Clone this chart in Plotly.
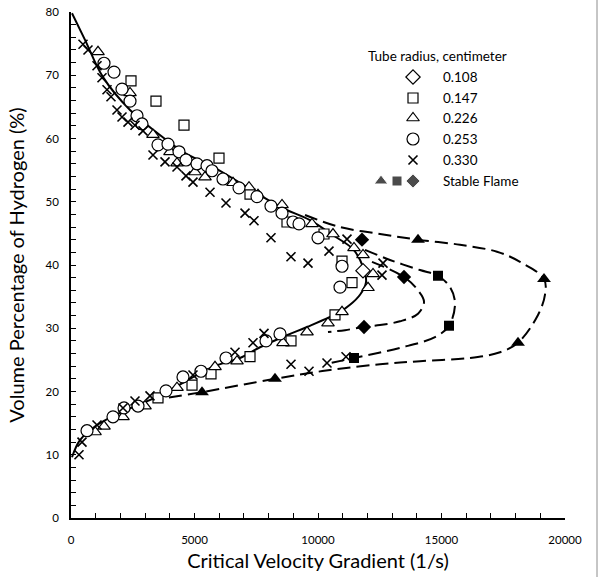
import plotly.graph_objects as go

# ---- measured points: critical velocity gradient (1/s) vs H2 volume (%) ----
r108_x = [11822]
r108_y = [39.1]

r147_x = [2429, 3441, 4575, 5992, 7247, 8745, 10243, 10972, 11377,
          3522, 4899, 5668, 7247, 8907, 10688]
r147_y = [69.1, 65.9, 62.1, 56.9, 51.2, 46.8, 44.9, 40.6, 37.2,
          19.0, 21.0, 22.8, 25.5, 28.0, 32.1]

r226_x = [1093, 2389, 3320, 4008, 4292, 5020, 5425, 6559, 7207, 7571, 8543,
          9757, 10607, 11457, 11822, 12227, 12025,
          972, 1336, 2105, 2996, 4292, 5830, 6721, 8583, 9555, 10405, 10972]
r226_y = [73.7, 67.2, 60.6, 57.9, 56.1, 54.7, 53.9, 53.0, 52.3, 51.1, 49.5,
          46.5, 44.9, 42.7, 41.6, 38.6, 36.4,
          13.6, 14.5, 16.0, 17.7, 20.6, 23.9, 24.8, 27.7, 29.4, 30.8, 32.6]

r253_x = [1336, 1741, 2065, 2389, 2672, 2875, 3522, 3927, 4372, 4656, 5101,
          5506, 5709, 6154, 6802, 7530, 8097, 8543, 8988, 9231, 10000,
          10972, 10891,
          648, 1700, 2146, 2713, 3846, 4534, 5263, 6275, 7895, 8462]
r253_y = [71.9, 70.5, 67.8, 65.9, 63.6, 62.3, 59.0, 59.1, 57.9, 56.6, 56.0,
          55.7, 54.9, 53.6, 52.2, 50.8, 49.3, 48.2, 46.8, 46.5, 44.3,
          39.8, 36.5,
          13.8, 16.0, 17.4, 17.7, 20.1, 22.3, 23.2, 25.3, 28.0, 29.1]

r330_x = [486, 688, 1053, 1255, 1458, 1619, 1862, 2065, 2308, 2591, 2915,
          3320, 3806, 4292, 4656, 4939, 5628, 6275, 7045, 7409, 8097, 8907,
          9595, 10445, 11174, 12632, 12591,
          324, 445, 1053, 2105, 2591, 3198, 4939, 6640, 7369, 7814,
          8907, 9636, 10364, 11134]
r330_y = [74.9, 74.0, 71.5, 69.6, 67.7, 66.6, 64.5, 63.4, 62.6, 62.1, 61.2,
          57.4, 56.3, 55.5, 54.1, 53.1, 51.5, 49.8, 48.2, 47.0, 44.3, 41.3,
          40.3, 42.2, 44.1, 40.3, 38.4,
          10.0, 12.0, 14.7, 17.4, 18.5, 19.3, 22.6, 26.2, 27.7, 29.2,
          24.3, 23.2, 24.5, 25.5]

# stable-flame points
sf_tri_x = [5304, 8259, 14049, 19150, 18097]
sf_tri_y = [19.9, 22.0, 44.0, 37.8, 27.7]
sf_sq_x = [11458, 14858, 15304]
sf_sq_y = [25.3, 38.3, 30.4]
sf_dia_x = [11782, 13482, 11863]
sf_dia_y = [44.0, 38.1, 30.2]

# blow-off boundary (solid) and stable-flame boundaries (dashed)
blowoff_x = [40, 567, 1296, 2389, 3482, 4535, 5750, 7126, 8462, 9676, 10607,
             11417, 11822, 11944, 11701, 11296, 10891, 9555, 8745, 7652,
             6842, 5749, 3603, 2267, 1053, 364, 40]
blowoff_y = [79.8, 75.6, 69.7, 64.5, 60.9, 57.9, 55.5, 52.3, 49.2, 47.1, 44.7,
             42.5, 39.7, 37.3, 35.3, 33.7, 32.6, 30.2, 28.9, 27.0,
             25.3, 23.9, 19.4, 17.1, 14.7, 12.3, 9.6]

outer_x = [9474, 10891, 12510, 14049, 15749, 17247, 18178, 19150, 19190,
           18907, 18097, 17369, 16154, 14130, 12510, 10486, 8259, 5304, 3401]
outer_y = [47.9, 46.0, 44.9, 44.0, 43.2, 42.1, 40.5, 37.8, 35.3,
           32.1, 27.7, 26.2, 25.3, 24.8, 24.3, 23.4, 22.0, 19.9, 18.7]

middle_x = [11903, 12915, 14130, 14858, 15344, 15547, 15304, 14737, 13320,
            11458, 10283]
middle_y = [42.4, 40.8, 39.2, 38.3, 36.5, 34.0, 30.4, 28.6, 26.9,
            25.3, 24.3]

inner_x = [12186, 13482, 14049, 14292, 14049, 13320, 12510, 11863, 11094,
           10405]
inner_y = [40.5, 38.1, 36.0, 34.2, 32.3, 31.1, 30.5, 30.2, 29.7, 29.4]

legend_title = "Tube radius, centimeter"
legend_labels = ["0.108", "0.147", "0.226", "0.253", "0.330", "Stable Flame"]

FONT = "Lato"
BLACK = "#000000"

fig = go.Figure()

# boundary curves
fig.add_trace(go.Scatter(x=blowoff_x, y=blowoff_y, mode="lines",
                         line=dict(color=BLACK, width=2, shape="spline", smoothing=1.0),
                         hoverinfo="skip"))
for cx, cy in [(outer_x, outer_y), (middle_x, middle_y), (inner_x, inner_y)]:
    fig.add_trace(go.Scatter(x=cx, y=cy, mode="lines",
                             line=dict(color=BLACK, width=2, dash="13px,6px",
                                       shape="spline", smoothing=1.0),
                             hoverinfo="skip"))

open_style = dict(color="white", line=dict(color=BLACK, width=1.2))
cross_style = dict(color=BLACK, line=dict(color=BLACK, width=1.6))
series = [
    (r108_x, r108_y, "diamond", 11),
    (r147_x, r147_y, "square", 10),
    (r226_x, r226_y, "triangle-up", 11),
    (r253_x, r253_y, "circle", 12),
]
for sx, sy, sym, size in series:
    fig.add_trace(go.Scatter(x=sx, y=sy, mode="markers",
                             marker=dict(symbol=sym, size=size, **open_style)))
fig.add_trace(go.Scatter(x=r330_x, y=r330_y, mode="markers",
                         marker=dict(symbol="x-thin-open", size=9, **cross_style)))

for sx, sy, sym, size in [(sf_tri_x, sf_tri_y, "triangle-up", 12),
                          (sf_sq_x, sf_sq_y, "square", 10),
                          (sf_dia_x, sf_dia_y, "diamond", 11)]:
    fig.add_trace(go.Scatter(x=sx, y=sy, mode="markers",
                             marker=dict(symbol=sym, size=size, color=BLACK,
                                         line=dict(width=0))))

# legend drawn on an overlay axis measured in pixels of the plot area
L, R, T, B = 71, 565, 12, 518
leg_mark_x = 413
leg_text_x = 441
leg_row_y = [77, 98, 118, 139, 160, 181]
leg_syms = ["diamond", "square", "triangle-up", "circle", "x-thin-open"]
leg_sizes = [11, 10, 11, 12, 9]
for i, (sym, sz) in enumerate(zip(leg_syms, leg_sizes)):
    style = cross_style if sym == "x-thin-open" else open_style
    fig.add_trace(go.Scatter(x=[leg_mark_x], y=[leg_row_y[i]], mode="markers",
                             marker=dict(symbol=sym, size=sz, **style),
                             xaxis="x2", yaxis="y2", hoverinfo="skip"))
fig.add_trace(go.Scatter(x=[381, 397, 413], y=[leg_row_y[5]] * 3, mode="markers",
                         marker=dict(symbol=["triangle-up", "square", "diamond"],
                                     size=[12, 10, 11], color=BLACK),
                         xaxis="x2", yaxis="y2", hoverinfo="skip"))

annotations = [dict(x=366, y=56, xref="x2", yref="y2", text=legend_title,
                    showarrow=False, xanchor="left", yanchor="middle",
                    font=dict(family=FONT, size=13.5, color=BLACK))]
for lbl, yy in zip(legend_labels, leg_row_y):
    annotations.append(dict(x=leg_text_x, y=yy, xref="x2", yref="y2", text=lbl,
                            showarrow=False, xanchor="left", yanchor="middle",
                            font=dict(family=FONT, size=13.5, color=BLACK)))

W, H = 616, 577
axis_common = dict(showgrid=False, zeroline=False, showline=True,
                   linecolor=BLACK, linewidth=1.5, mirror=False, automargin=False,
                   ticks="inside", ticklen=5, tickwidth=1, tickcolor=BLACK,
                   tickfont=dict(family=FONT, size=11.5, color=BLACK))

fig.update_layout(
    width=W, height=H,
    margin=dict(l=L, r=W - R, t=T, b=H - B, pad=0),
    paper_bgcolor="white", plot_bgcolor="white",
    showlegend=False,
    font=dict(family=FONT, color=BLACK),
    xaxis=dict(range=[0, 20000], dtick=5000, tickformat="d",
               minor=dict(dtick=1000, ticks="inside", ticklen=5, tickcolor=BLACK),
               title=dict(text="Critical Velocity Gradient (1/s)",
                          font=dict(family=FONT, size=20, color=BLACK), standoff=9),
               ticklabelstandoff=10,
               **axis_common),
    yaxis=dict(range=[0, 80], dtick=10,
               minor=dict(dtick=2, ticks="inside", ticklen=5, tickcolor=BLACK),
               title=dict(text="Volume Percentage of Hydrogen (%)",
                          font=dict(family=FONT, size=20, color=BLACK), standoff=16),
               ticklabelstandoff=8,
               **axis_common),
    xaxis2=dict(range=[L, R], overlaying="x", visible=False, fixedrange=True),
    yaxis2=dict(range=[B, T], overlaying="y", visible=False, fixedrange=True),
    annotations=annotations,
    shapes=[dict(type="line", xref="paper", yref="paper",
                 x0=(597 - L) / (R - L), x1=(597 - L) / (R - L),
                 y0=(B - H) / (B - T), y1=B / (B - T),
                 line=dict(color="#8c8c8c", width=1))],
)

fig.write_html("out.html")
